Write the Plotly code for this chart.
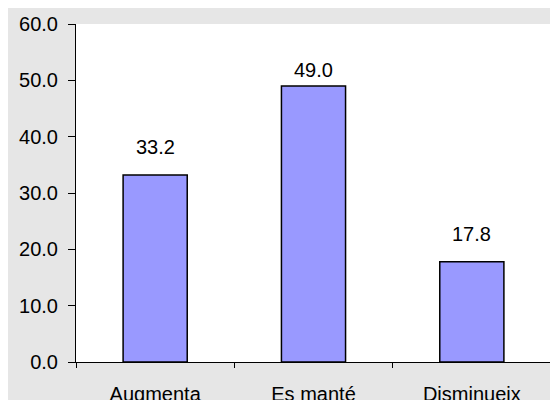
import plotly.graph_objects as go

categories = ["Augmenta", "Es manté", "Disminueix"]
values = [33.2, 49.0, 17.8]
y_ticks = [0, 10, 20, 30, 40, 50, 60]

FONT = "Liberation Sans, Arial, sans-serif"

fig = go.Figure(go.Bar(
    x=categories, y=values, width=0.405,
    marker=dict(color="#9999ff", line=dict(color="#000000", width=1.5)),
    hoverinfo="x+y",
))

# value labels above each bar; the tallest one is squeezed closer to its bar
for c, v in zip(categories, values):
    shift = 3 if v == max(values) else 15
    fig.add_annotation(x=c, y=v, text=f"{v:.1f}", showarrow=False,
                       yanchor="bottom", yshift=shift,
                       font=dict(family=FONT, size=20, color="#000"))

# page body has an 8px margin, so the figure is a bit smaller than the window
fig.update_layout(
    width=550, height=392,
    margin=dict(l=68, r=7, t=16, b=38),
    paper_bgcolor="#e6e6e6", plot_bgcolor="#ffffff",
    font=dict(family=FONT, size=20, color="#000"),
    showlegend=False,
)
fig.update_xaxes(
    showline=True, linecolor="#000", linewidth=1,
    ticks="outside", ticklen=5, tickcolor="#000", tickson="boundaries",
    ticklabelstandoff=14, showgrid=False, automargin=False,
)
fig.update_yaxes(
    range=[0, 60], tickvals=y_ticks, tickformat=".1f",
    showline=True, linecolor="#000", linewidth=1,
    ticks="outside", ticklen=7, tickcolor="#000",
    ticklabelstandoff=6, showgrid=False, zeroline=False, automargin=False,
)

fig.write_html("out.html")
